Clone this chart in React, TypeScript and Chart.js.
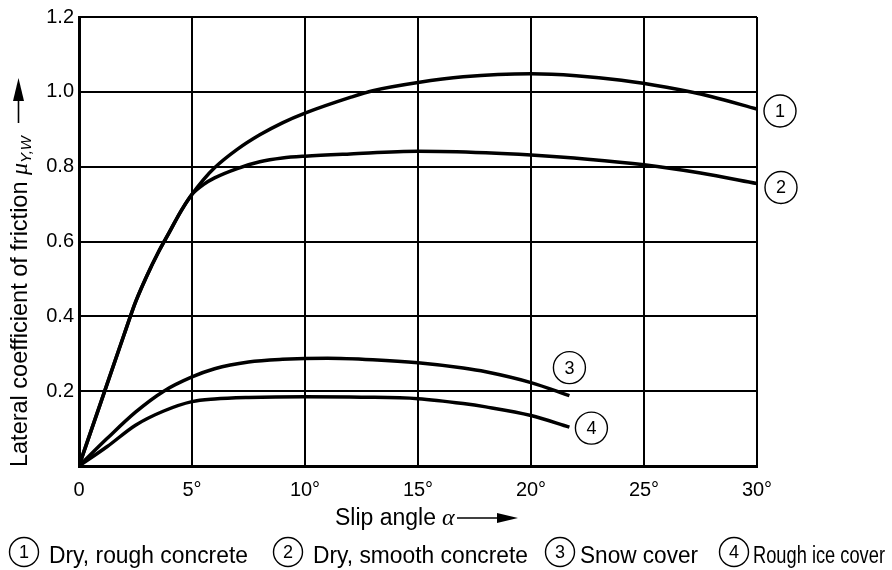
import React, { useEffect, useRef } from "react";
import { Chart, registerables } from "chart.js";

Chart.register(...registerables);

// ---- Data ----
const X_TICK_VALUES = [0, 5, 10, 15, 20, 25, 30];
const X_TICK_LABELS = ["0", "5°", "10°", "15°", "20°", "25°", "30°"];
const Y_TICK_VALUES = [0, 0.2, 0.4, 0.6, 0.8, 1.0, 1.2];
const Y_TICK_LABELS = ["", "0.2", "0.4", "0.6", "0.8", "1.0", "1.2"];

const SERIES_NAMES = ["Dry, rough concrete", "Dry, smooth concrete", "Snow cover", "Rough ice cover"];
const SERIES_IDS = ["1", "2", "3", "4"];

const DRY_ROUGH_X = [0, 1, 2, 2.5, 3, 3.5, 4, 4.5, 5, 5.5, 6, 7, 8, 9, 10, 12, 13, 15, 17, 20, 22, 24, 26, 28, 30];
const DRY_ROUGH_Y = [0, 0.176, 0.352, 0.438, 0.508, 0.57, 0.625, 0.68, 0.726, 0.765, 0.797, 0.846, 0.885, 0.917, 0.943, 0.985, 1.003, 1.025, 1.04, 1.048, 1.043, 1.031, 1.012, 0.987, 0.954];

const DRY_SMOOTH_X = [0, 1, 2, 2.5, 3, 3.5, 4, 4.5, 5, 5.5, 6, 7, 8, 9, 10, 12, 15, 18, 20, 22.5, 25, 27.5, 30];
const DRY_SMOOTH_Y = [0, 0.176, 0.352, 0.438, 0.508, 0.57, 0.625, 0.68, 0.726, 0.752, 0.77, 0.795, 0.813, 0.823, 0.828, 0.834, 0.841, 0.837, 0.831, 0.82, 0.805, 0.783, 0.755];

const SNOW_X = [0, 1.25, 2.5, 3.75, 5, 6, 7.5, 9, 11, 13, 15, 17, 18, 20, 21.7];
const SNOW_Y = [0, 0.074, 0.144, 0.2, 0.238, 0.26, 0.278, 0.285, 0.288, 0.284, 0.276, 0.262, 0.252, 0.223, 0.188];

const ICE_X = [0, 1.25, 2.5, 3.75, 5, 6, 7.5, 10, 12.5, 15, 17, 18, 20, 21.7];
const ICE_Y = [0, 0.052, 0.109, 0.147, 0.172, 0.179, 0.183, 0.185, 0.184, 0.18, 0.167, 0.158, 0.135, 0.104];

const SERIES_X = [DRY_ROUGH_X, DRY_SMOOTH_X, SNOW_X, ICE_X];
const SERIES_Y = [DRY_ROUGH_Y, DRY_SMOOTH_Y, SNOW_Y, ICE_Y];

const SANS = '"Liberation Sans", Arial, Helvetica, sans-serif';
const SERIF = '"Liberation Serif", "DejaVu Serif", serif';

function circled(ctx: CanvasRenderingContext2D, cx: number, cy: number, r: number, txt: string) {
  ctx.save();
  ctx.beginPath();
  ctx.arc(cx, cy, r, 0, Math.PI * 2);
  ctx.lineWidth = 1.4;
  ctx.strokeStyle = "#000";
  ctx.stroke();
  ctx.fillStyle = "#000";
  ctx.font = `18px ${SANS}`;
  ctx.textAlign = "center";
  ctx.textBaseline = "middle";
  ctx.fillText(txt, cx, cy + 1);
  ctx.restore();
}

const annotations = {
  id: "annotations",
  afterDraw(chart: any) {
    const ctx: CanvasRenderingContext2D = chart.ctx;
    const xs = chart.scales.x;
    const ys = chart.scales.y;
    // curve-end labels, placed relative to the last point of each curve
    const offsets = [
      [23, 2],
      [24, 4],
      [0, -28],
      [22, 1],
    ];
    SERIES_X.forEach((arrX, i) => {
      const lx = arrX[arrX.length - 1];
      const ly = SERIES_Y[i][SERIES_Y[i].length - 1];
      const px = xs.getPixelForValue(lx) + offsets[i][0];
      const py = ys.getPixelForValue(ly) + offsets[i][1];
      circled(ctx, px, py, 16, SERIES_IDS[i]);
    });

    ctx.save();
    ctx.fillStyle = "#000";
    ctx.strokeStyle = "#000";

    // x-axis title
    ctx.font = `23px ${SANS}`;
    ctx.textAlign = "left";
    ctx.textBaseline = "alphabetic";
    ctx.fillText("Slip angle", 335, 525);
    ctx.font = `italic 24px ${SERIF}`;
    ctx.fillText("α", 442, 525);
    ctx.lineWidth = 1.6;
    ctx.beginPath();
    ctx.moveTo(457, 518);
    ctx.lineTo(500, 518);
    ctx.stroke();
    ctx.beginPath();
    ctx.moveTo(518, 518);
    ctx.lineTo(497, 513);
    ctx.lineTo(497, 523);
    ctx.closePath();
    ctx.fill();

    // y-axis title (rotated)
    ctx.save();
    ctx.translate(27, 467);
    ctx.rotate(-Math.PI / 2);
    ctx.font = `24px ${SANS}`;
    ctx.textAlign = "left";
    ctx.textBaseline = "alphabetic";
    const main = "Lateral coefficient of friction ";
    ctx.fillText(main, 0, 0, 292);
    let w = Math.min(292, ctx.measureText(main).width);
    ctx.font = `italic 24px ${SERIF}`;
    ctx.fillText("μ", w, 0);
    w += ctx.measureText("μ").width;
    ctx.font = `italic 15px ${SANS}`;
    ctx.fillText("Y,W", w, 4);
    // arrow
    ctx.lineWidth = 1.6;
    ctx.beginPath();
    ctx.moveTo(344, -8.5);
    ctx.lineTo(370, -8.5);
    ctx.stroke();
    ctx.beginPath();
    ctx.moveTo(389, -8.5);
    ctx.lineTo(366, -14);
    ctx.lineTo(366, -3);
    ctx.closePath();
    ctx.fill();
    ctx.restore();

    // legend
    const legendCx = [24, 288, 560, 734];
    const legendTx = [49, 313, 580, 753];
    const legendMax = [199, 215, 118, 132];
    SERIES_NAMES.forEach((name, i) => {
      circled(ctx, legendCx[i], 552, 14.5, SERIES_IDS[i]);
      ctx.font = `23px ${SANS}`;
      ctx.textAlign = "left";
      ctx.textBaseline = "alphabetic";
      ctx.fillStyle = "#000";
      ctx.fillText(name, legendTx[i], 563, legendMax[i]);
    });
    ctx.restore();
  },
};

export default function App() {
  const canvasRef = useRef<HTMLCanvasElement | null>(null);

  useEffect(() => {
    const canvas = canvasRef.current;
    if (!canvas) return;
    const datasets = SERIES_NAMES.map((name, i) => ({
      label: name,
      data: SERIES_X[i].map((x, j) => ({ x, y: SERIES_Y[i][j] })),
      borderColor: "#000",
      borderWidth: 3.5,
      pointRadius: 0,
      fill: false,
      cubicInterpolationMode: "monotone" as const,
    }));

    const chart = new Chart(canvas, {
      type: "line",
      data: { datasets },
      plugins: [annotations],
      options: {
        animation: false,
        responsive: false,
        devicePixelRatio: 1,
        layout: { padding: { top: 13, right: 135, bottom: 0, left: 0 } },
        plugins: {
          legend: { display: false },
          tooltip: { enabled: false },
        },
        scales: {
          x: {
            type: "linear",
            min: 0,
            max: 30,
            afterFit: (s: any) => {
              s.height = 104;
            },
            afterBuildTicks: (s: any) => {
              s.ticks = X_TICK_VALUES.map((v) => ({ value: v }));
            },
            ticks: {
              padding: 12,
              color: "#000",
              font: { size: 20, family: SANS },
              maxRotation: 0,
              callback: (v: any) => {
                const k = X_TICK_VALUES.indexOf(Number(v));
                return k >= 0 ? X_TICK_LABELS[k] : "";
              },
            },
            grid: { color: "#000", lineWidth: 2, drawTicks: false },
            border: { color: "#000", width: 3 },
          },
          y: {
            type: "linear",
            min: 0,
            max: 1.2,
            afterFit: (s: any) => {
              s.width = 79;
            },
            afterBuildTicks: (s: any) => {
              s.ticks = Y_TICK_VALUES.map((v) => ({ value: v }));
            },
            ticks: {
              padding: 5,
              color: "#000",
              font: { size: 20, family: SANS },
              callback: (v: any) => {
                const k = Y_TICK_VALUES.findIndex((t) => Math.abs(t - Number(v)) < 1e-6);
                return k >= 0 ? Y_TICK_LABELS[k] : "";
              },
            },
            grid: { color: "#000", lineWidth: 2, drawTicks: false },
            border: { color: "#000", width: 3 },
          },
        },
      },
    });
    return () => chart.destroy();
  }, []);

  return (
    <div style={{ position: "absolute", left: 0, top: 0, width: 892, height: 570, background: "#fff" }}>
      <canvas ref={canvasRef} width={892} height={570} style={{ width: 892, height: 570, display: "block" }} />
    </div>
  );
}
